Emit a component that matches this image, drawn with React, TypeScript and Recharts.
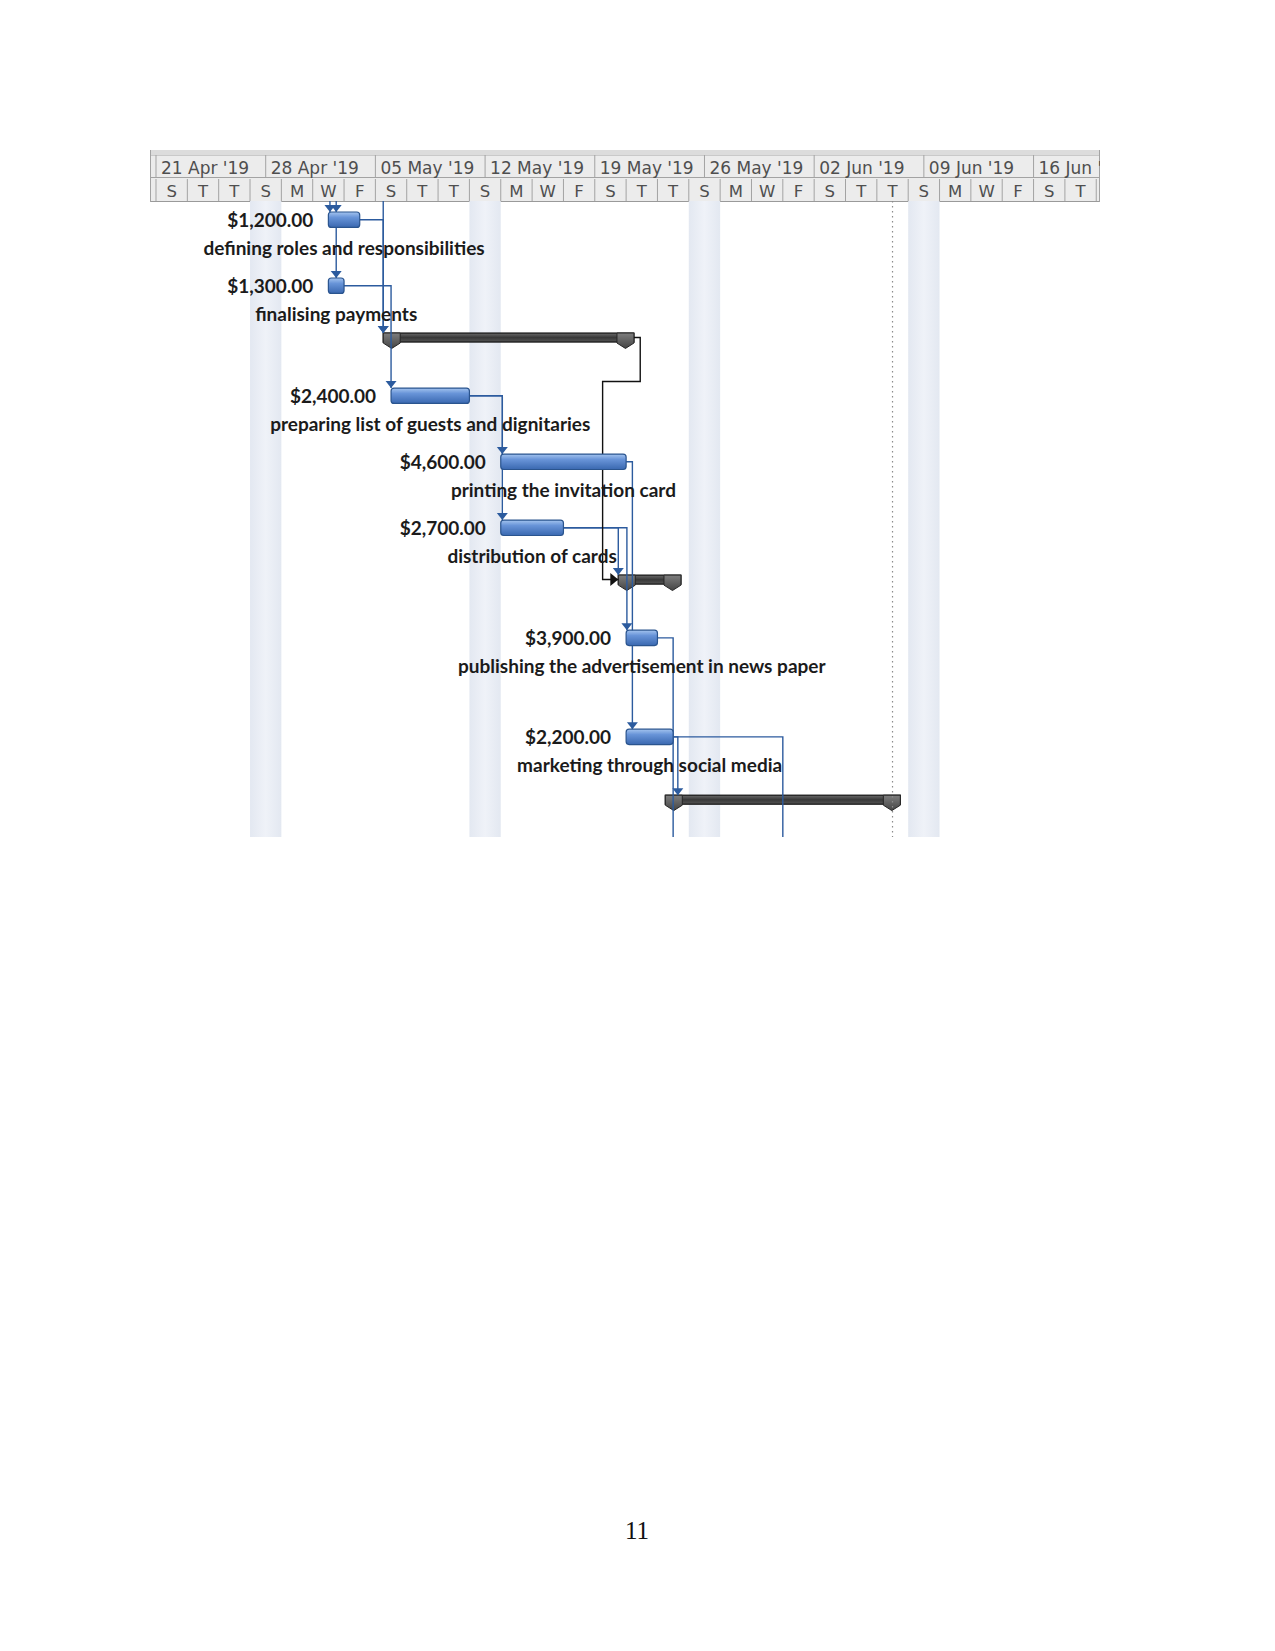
import React from "react";
import { ComposedChart, XAxis, YAxis, Line, ReferenceArea, ReferenceLine } from "recharts";

// ---- Data ----
// time is counted in days from Sun 21 Apr 2019
const weekLabels = [
  "21 Apr '19", "28 Apr '19", "05 May '19", "12 May '19", "19 May '19",
  "26 May '19", "02 Jun '19", "09 Jun '19", "16 Jun '19",
];
// lower tier: one letter per 2-day cell
const dayLetters = [
  "S", "T", "T", "S", "M", "W", "F", "S", "T", "T", "S", "M", "W", "F", "S",
  "T", "T", "S", "M", "W", "F", "S", "T", "T", "S", "M", "W", "F", "S", "T",
];
const shadedWeekends = [6, 20, 34, 48]; // Sat start of shaded non-working days
const finishDay = 47; // dotted project finish line

// height of each table row, in half-lines
const rowHeights = [6, 5, 5, 6, 6, 5, 5, 9, 6, 6];

interface Task {
  name: string;
  cost: string;
  start: number;
  finish: number;
  summary: boolean;
}

const tasks: Task[] = [
  { name: "defining roles and responsibilities", cost: "$1,200.00", start: 11, finish: 13, summary: false },
  { name: "finalising payments", cost: "$1,300.00", start: 11, finish: 12, summary: false },
  { name: "", cost: "", start: 15, finish: 30, summary: true },
  { name: "preparing list of guests and dignitaries", cost: "$2,400.00", start: 15, finish: 20, summary: false },
  { name: "printing the invitation card", cost: "$4,600.00", start: 22, finish: 30, summary: false },
  { name: "distribution of cards", cost: "$2,700.00", start: 22, finish: 26, summary: false },
  { name: "", cost: "", start: 30, finish: 33, summary: true },
  { name: "publishing the advertisement in news paper", cost: "$3,900.00", start: 30, finish: 32, summary: false },
  { name: "marketing through social media", cost: "$2,200.00", start: 30, finish: 33, summary: false },
  { name: "", cost: "", start: 33, finish: 47, summary: true },
];

// dependency links: from/to task index (null = off screen), lane = day of the vertical run
const links = [
  { from: null, to: 0, lane: 11.1 },
  { from: null, to: 0, lane: 11.5 },
  { from: 0, to: 1, lane: 11.5 },
  { from: null, to: 2, lane: 14.5 },
  { from: 0, to: 2, lane: 14.5 },
  { from: 1, to: 3, lane: 15.0 },
  { from: 3, to: 4, lane: 22.1 },
  { from: 3, to: 5, lane: 22.1 },
  { from: 4, to: 8, lane: 30.4 },
  { from: 5, to: 6, lane: 29.5 },
  { from: 5, to: 7, lane: 30.05 },
  { from: 7, to: null, lane: 33.0 },
  { from: 8, to: 9, lane: 33.3 },
  { from: 8, to: null, lane: 40.0 },
];
// summary -> summary link that loops back left
const loopLink = { from: 2, to: 6, out: 30.9, back: 28.5 };

// ---- Layout helpers ----
const X_MIN = -0.383;
const X_MAX = 60.24;
const Y_MAX = 57.8;
const CAP = 0.5; // summary end caps, in days
const LINK = "#2c5b9e";
const FONT = "Lato, 'Open Sans', sans-serif";
const HDR_FONT = "'DejaVu Sans', sans-serif";

const rowTops = rowHeights.reduce<number[]>((acc, h, i) => {
  acc.push(i === 0 ? 0 : acc[i - 1] + rowHeights[i - 1]);
  return acc;
}, []);
const barTop = (i: number) => rowTops[i] + 1.0;
const barMid = (i: number) => rowTops[i] + (tasks[i].summary ? 1.4 : 1.7);

type Pt = { x: number; y: number };
const routes = links.map((l) => {
  const pts: Pt[] = [];
  if (l.from === null) {
    pts.push({ x: l.lane, y: 0 });
  } else {
    const f = tasks[l.from];
    const end = f.summary ? f.finish + CAP : f.finish;
    if (l.lane > end) pts.push({ x: end, y: barMid(l.from) });
    pts.push({ x: l.lane, y: barMid(l.from) });
  }
  pts.push({ x: l.lane, y: l.to === null ? Y_MAX : barTop(l.to) });
  return { pts, arrow: l.to !== null };
});

const loopRoute: Pt[] = (() => {
  const f = tasks[loopLink.from];
  const t = tasks[loopLink.to];
  const turnY = rowTops[loopLink.from + 1] + 0.4;
  return [
    { x: f.finish + CAP, y: barMid(loopLink.from) },
    { x: loopLink.out, y: barMid(loopLink.from) },
    { x: loopLink.out, y: turnY },
    { x: loopLink.back, y: turnY },
    { x: loopLink.back, y: barMid(loopLink.to) },
    { x: t.start - CAP, y: barMid(loopLink.to) },
  ];
})();

const dayTicks = Array.from({ length: 61 }, (_, i) => i);

// ---- Shapes ----
const HeaderTick = (props: any) => {
  const { x, y, payload } = props;
  const v: number = payload.value;
  return (
    <g clipPath="url(#hdrClip)">
      {v === 0 && (
        <defs>
          <clipPath id="hdrClip">
            <rect x={142} y={0} width={950} height={200} />
          </clipPath>
        </defs>
      )}
      {v % 2 === 0 && <line x1={x} x2={x} y1={y - 22} y2={y} stroke="#a3a3a3" />}
      {v % 2 === 1 && (
        <text x={x} y={y - 4.5} textAnchor="middle" fontFamily={HDR_FONT} fontSize={16.5} fill="#4f4f4f">
          {dayLetters[(v - 1) / 2]}
        </text>
      )}
      {v % 7 === 0 && (
        <g>
          <line x1={x} x2={x} y1={y - 46} y2={y - 23} stroke="#a3a3a3" />
          <text x={x + 5} y={y - 27} fontFamily={HDR_FONT} fontSize={17} fill="#4f4f4f">
            {weekLabels[v / 7]}
          </text>
        </g>
      )}
    </g>
  );
};

const TaskShape = (props: any) => {
  const { x, y, width, height, task } = props;
  const mid = y + height / 2;
  return (
    <g>
      <rect x={x} y={y} width={width} height={height} rx={3} fill="url(#taskFill)" stroke="#2a548e" strokeWidth={1.2} />
      <text x={x - 15} y={mid} textAnchor="end" dominantBaseline="central" fontFamily={FONT} fontWeight={700} fontSize={19} fill="#1b1b1b">
        {task.cost}
      </text>
      <text x={x + width / 2} y={mid + 28} textAnchor="middle" dominantBaseline="central" fontFamily={FONT} fontWeight={700} fontSize={19} fill="#1b1b1b">
        {task.name}
      </text>
    </g>
  );
};

const SummaryShape = (props: any) => {
  const { x, y, width, height } = props;
  const body = 9;
  const cap = 17;
  const capPath = (cx: number) =>
    `M${cx - cap / 2},${y} L${cx + cap / 2},${y} L${cx + cap / 2},${y + body + 1} L${cx},${y + height} L${cx - cap / 2},${y + body + 1} Z`;
  return (
    <g>
      <rect x={x} y={y} width={width} height={body} fill="url(#sumFill)" stroke="#111111" strokeWidth={1.2} />
      <path d={capPath(x + cap / 2)} fill="url(#capFill)" stroke="#262626" strokeWidth={1} />
      <path d={capPath(x + width - cap / 2)} fill="url(#capFill)" stroke="#262626" strokeWidth={1} />
    </g>
  );
};

const arrowDot = (last: number, dir: "down" | "right", color: string) => (p: any) => {
  const { cx, cy, index } = p;
  if (index !== last || cx == null) return <g key={`d${index}`} />;
  const d =
    dir === "down"
      ? `M${cx - 5.5},${cy - 7} L${cx + 5.5},${cy - 7} L${cx},${cy} Z`
      : `M${cx - 8},${cy - 6.5} L${cx - 8},${cy + 6.5} L${cx},${cy} Z`;
  return <path key={`d${index}`} d={d} fill={color} stroke="none" />;
};

export default function App() {
  return (
    <div style={{ position: "relative", width: 1259, height: 1635 }}>
      {/* timescale background */}
      <div
        style={{
          position: "absolute", left: 142, top: 142, width: 950, height: 52,
          background: "#ececec", borderLeft: "1px solid #a3a3a3", borderRight: "1px solid #a3a3a3",
          boxSizing: "border-box",
        }}
      >
        <div style={{ height: 5, background: "#dcdcdc" }} />
        <div style={{ height: 23, borderTop: "1px solid #c9c9c9", borderBottom: "1px solid #a3a3a3", boxSizing: "border-box" }} />
        <div style={{ height: 24, borderBottom: "1px solid #9a9a9a", boxSizing: "border-box" }} />
      </div>

      <div style={{ position: "relative" }}>
        <ComposedChart width={1100} height={829} margin={{ top: 142, right: 8, bottom: 0, left: 142 }}>
          <defs>
            <linearGradient id="taskFill" x1="0" y1="0" x2="0" y2="1">
              <stop offset="0%" stopColor="#a4c4ef" />
              <stop offset="35%" stopColor="#6894d8" />
              <stop offset="100%" stopColor="#3a68b0" />
            </linearGradient>
            <linearGradient id="sumFill" x1="0" y1="0" x2="0" y2="1">
              <stop offset="0%" stopColor="#6a6a6a" />
              <stop offset="50%" stopColor="#383838" />
              <stop offset="100%" stopColor="#555555" />
            </linearGradient>
            <linearGradient id="capFill" x1="0" y1="0" x2="0" y2="1">
              <stop offset="0%" stopColor="#7e7e7e" />
              <stop offset="100%" stopColor="#444444" />
            </linearGradient>
            <linearGradient id="wkFill" x1="0" y1="0" x2="1" y2="0">
              <stop offset="0%" stopColor="#e3e8f1" />
              <stop offset="50%" stopColor="#eff2f8" />
              <stop offset="100%" stopColor="#e3e8f1" />
            </linearGradient>
          </defs>

          <XAxis
            xAxisId={0}
            type="number"
            dataKey="x"
            orientation="top"
            domain={[X_MIN, X_MAX]}
            allowDataOverflow
            ticks={dayTicks}
            interval={0}
            height={51}
            tick={<HeaderTick />}
            tickLine={false}
            tickSize={0}
            tickMargin={0}
            axisLine={false}
          />
          <YAxis yAxisId={0} type="number" domain={[0, Y_MAX]} reversed allowDataOverflow hide />

          {shadedWeekends.map((d) => (
            <ReferenceArea key={`w${d}`} x1={d} x2={d + 2} fill="url(#wkFill)" fillOpacity={1} stroke="none" ifOverflow="visible" />
          ))}
          <ReferenceLine x={finishDay} stroke="#8c8c8c" strokeDasharray="1.5 3.5" strokeWidth={1.2} ifOverflow="visible" />

          {tasks.map((t, i) =>
            t.summary ? (
              <ReferenceArea
                key={`s${i}`}
                x1={t.start - CAP}
                x2={t.finish + CAP}
                y1={rowTops[i] + 1.0}
                y2={rowTops[i] + 2.4}
                ifOverflow="visible"
                shape={(p: any) => <SummaryShape {...p} />}
              />
            ) : null
          )}

          {routes.map((r, i) => (
            <Line
              key={`l${i}`}
              data={r.pts}
              dataKey="y"
              type="linear"
              stroke={LINK}
              strokeWidth={1.4}
              dot={r.arrow ? arrowDot(r.pts.length - 1, "down", LINK) : false}
              activeDot={false}
              isAnimationActive={false}
              legendType="none"
            />
          ))}
          <Line
            data={loopRoute}
            dataKey="y"
            type="linear"
            stroke="#111111"
            strokeWidth={1.4}
            dot={arrowDot(loopRoute.length - 1, "right", "#111111")}
            activeDot={false}
            isAnimationActive={false}
            legendType="none"
          />

          {tasks.map((t, i) =>
            !t.summary ? (
              <ReferenceArea
                key={`t${i}`}
                x1={t.start}
                x2={t.finish}
                y1={rowTops[i] + 1.0}
                y2={rowTops[i] + 2.4}
                ifOverflow="visible"
                zIndex={700}
                shape={(p: any) => <TaskShape {...p} task={t} />}
              />
            ) : null
          )}
        </ComposedChart>
      </div>

      <div
        style={{
          position: "absolute", left: 579, top: 1510, width: 100, textAlign: "center",
          fontFamily: "'Liberation Serif', serif", fontSize: 25, lineHeight: 1, color: "#111",
        }}
      >
        11
      </div>
    </div>
  );
}
